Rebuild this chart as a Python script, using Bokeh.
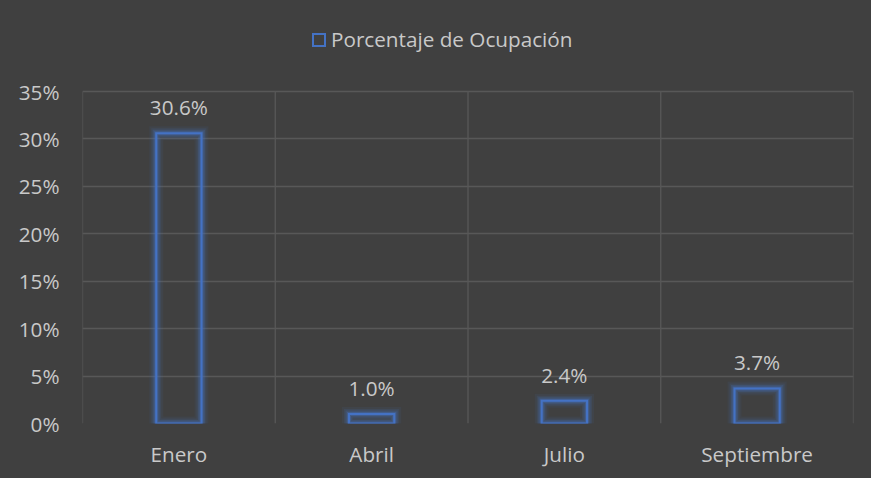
from bokeh.plotting import figure
from bokeh.models import (Range1d, FixedTicker, PrintfTickFormatter, ColumnDataSource,
                          Legend, LegendItem)
from bokeh.core.properties import value
from bokeh.embed import file_html
from bokeh.resources import INLINE

months = ["Enero", "Abril", "Julio", "Septiembre"]
ocupacion = [30.6, 1.0, 2.4, 3.7]
y_ticks = [0, 5, 10, 15, 20, 25, 30, 35]
series_name = "Porcentaje de Ocupación"

FONT = "Open Sans"
FS = "20.7px"
TXT = "#c9c9c9"
BLUE = "#4472C4"
BG = "#404040"
GRID = "#585858"

W, H = 871, 478
BORDER_L, BORDER_R, BORDER_B = 82, 18, 55
GRID_TOP = 91  # pixel row of the top gridline
frame_h = H - BORDER_B
y_max = y_ticks[-1]
y_end = y_max * frame_h / (frame_h - GRID_TOP)

xs = [i + 0.5 for i in range(len(months))]
src = ColumnDataSource(dict(x=xs, top=ocupacion,
                            lbl=[f"{v:.1f}%" for v in ocupacion]))

p = figure(width=W, height=H, output_backend="svg", toolbar_location=None,
           x_range=Range1d(0, len(months)), y_range=Range1d(0, y_end),
           min_border_left=BORDER_L, min_border_right=BORDER_R, min_border_top=0,
           min_border_bottom=BORDER_B, background_fill_color=BG, border_fill_color=BG,
           styles={"background-color": BG, "box-shadow": "-1px -1px 0 #d9d9d9"})
p.outline_line_color = None

# category separators (vertical grid)
seps = list(range(len(months) + 1))
p.segment(x0=seps, y0=[0] * len(seps), x1=seps, y1=[y_max] * len(seps),
          line_color=GRID, line_width=1.3)

# glow
for lw, a in [(14, 0.08), (10, 0.13), (7, 0.2), (4, 0.35)]:
    p.vbar(x="x", top="top", bottom=0, width=0.235, source=src, fill_alpha=0,
           line_color=BLUE, line_alpha=a, line_width=lw, line_join="miter")
bars = p.vbar(x="x", top="top", bottom=0, width=0.235, source=src, fill_alpha=0,
              line_color=BLUE, line_width=2, line_join="miter")

p.text(x="x", y="top", text="lbl", source=src, text_align="center",
       text_baseline="alphabetic", y_offset=-26, text_color=TXT,
       text_font=value(FONT), text_font_size=FS)

# axes
p.xaxis.ticker = FixedTicker(ticks=xs)
p.xaxis.major_label_overrides = {x: m for x, m in zip(xs, months)}
p.yaxis.ticker = FixedTicker(ticks=y_ticks)
p.yaxis.formatter = PrintfTickFormatter(format="%d%%")
for ax in (p.xaxis, p.yaxis):
    ax.axis_line_color = None
    ax.major_tick_line_color = None
    ax.minor_tick_line_color = None
    ax.major_tick_out = 0
    ax.major_tick_in = 0
    ax.major_label_text_color = TXT
    ax.major_label_text_font = FONT
    ax.major_label_text_font_size = FS
p.yaxis.major_label_standoff = 23
p.xaxis.major_label_standoff = 16

p.xgrid.visible = False
p.ygrid.ticker = FixedTicker(ticks=y_ticks)
p.ygrid.grid_line_color = GRID
p.ygrid.grid_line_width = 1.3

legend = Legend(items=[LegendItem(label=series_name, renderers=[bars])],
                location=(229, 370), orientation="horizontal",
                background_fill_alpha=0, border_line_color=None,
                label_text_color=TXT, label_text_font=FONT,
                label_text_font_size=FS, glyph_width=15, glyph_height=15,
                label_standoff=5, padding=0, margin=0, spacing=0)
p.add_layout(legend, "center")

open("out.html", "w").write(file_html(p, INLINE))
